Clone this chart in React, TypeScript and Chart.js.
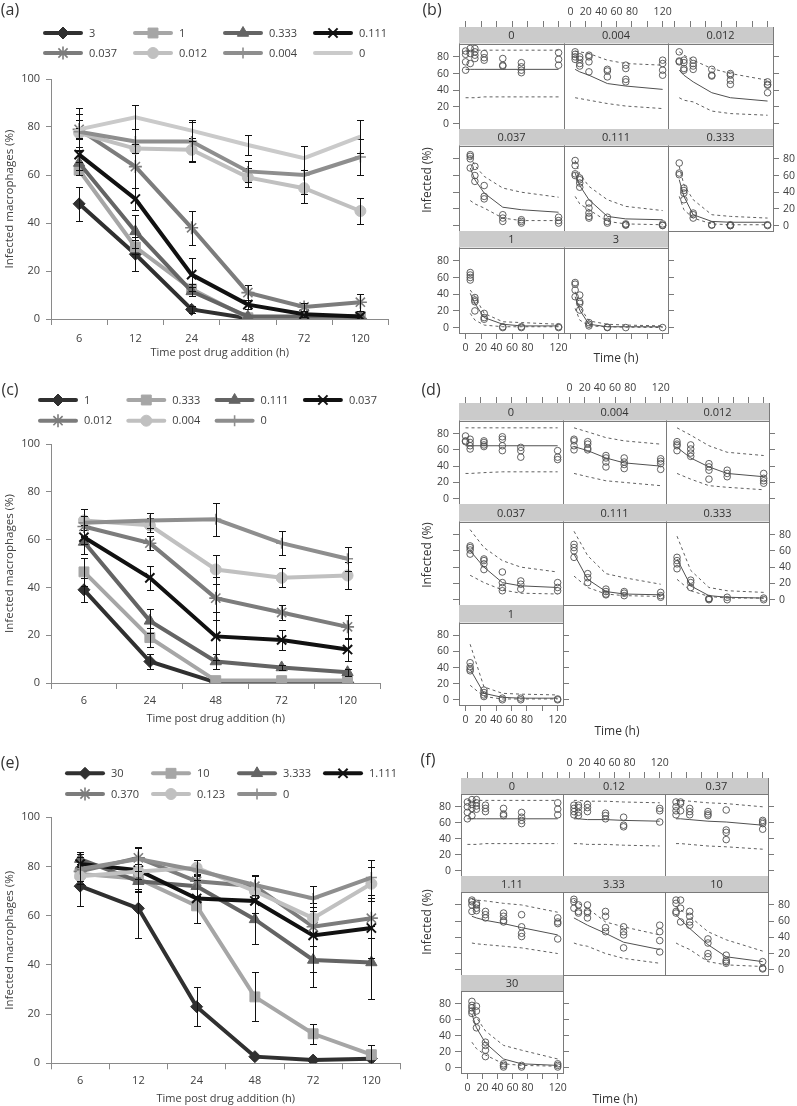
import React, { useEffect, useRef } from 'react';
import { Chart, registerables } from 'chart.js';
import { drawPoint } from 'chart.js/helpers';

Chart.register(...registerables);

const FONT = "'Open Sans', 'DejaVu Sans', sans-serif";
const TXT = '#404040';
const AXIS = '#8a8a8a';
const PBORDER = '#7a7a7a';
const STRIP = '#cbcbcb';

// ---------------- Panel (a) ----------------
const aTimes = ['6', '12', '24', '48', '72', '120'];
const aLabels = ['3', '1', '0.333', '0.111', '0.037', '0.012', '0.004', '0'];
const aMeans = [
  [48, 27, 4, 0.3, 0.3, 0.3],
  [62, 30, 12.5, 0.5, 0.5, 1],
  [65, 36.5, 11.5, 1, 1, 1],
  [68.5, 50, 18.5, 6, 2, 1],
  [79, 63.5, 38, 11, 5, 7],
  [77.5, 71, 70.5, 59, 54.5, 45],
  [78, 74, 74, 61.5, 60, 67.5],
  [79, 84, 78.5, 72.5, 67, 76],
];
const aErrors = [
  [7, 7, 1.5, 0.3, 0.3, 0.5],
  [2, 3, 2, 0.5, 0.5, 0.5],
  [3, 7, 2, 0.5, 0.5, 0.5],
  [3, 4.5, 7, 2, 1, 0.5],
  [4, 9, 7, 3, 1.5, 3.5],
  [2, 2, 5, 4, 6, 5.5],
  [7.5, 5, 8, 4.5, 8, 7.5],
  [9, 5, 4.5, 4, 5, 7],
];

// ---------------- Panel (c) ----------------
const cTimes = ['6', '24', '48', '72', '120'];
const cLabels = ['1', '0.333', '0.111', '0.037', '0.012', '0.004', '0'];
const cMeans = [
  [39, 9, 0.3, 0.3, 0.3],
  [46.5, 19, 1, 1, 1],
  [59, 26, 9, 6.5, 4.5],
  [61, 44, 19.5, 18, 14],
  [65.5, 58.5, 35.5, 29.5, 23.5],
  [68, 66, 47.5, 44, 45],
  [67, 68, 68.5, 58.5, 52],
];
const cErrors = [
  [5, 3, 0.5, 0.3, 0.3],
  [6, 4, 0.5, 0.5, 0.5],
  [5, 5, 3, 1, 1.5],
  [3, 5, 10, 4, 5],
  [4, 3, 9, 3, 5],
  [2, 3, 6, 4, 5.5],
  [6, 3, 7, 5, 5],
];

// ---------------- Panel (e) ----------------
const eTimes = ['6', '12', '24', '48', '72', '120'];
const eLabels = ['30', '10', '3.333', '1.111', '0.370', '0.123', '0'];
const eMeans = [
  [72, 63, 23, 2.7, 1.3, 1.9],
  [77, 75, 64, 27, 12, 3.5],
  [83, 74, 72, 58.5, 42, 41],
  [81, 78.5, 67, 66, 52, 55],
  [78, 83.5, 74, 72, 55.5, 59],
  [76, 78, 79.5, 70, 59, 73],
  [79, 83, 78.5, 72.5, 67, 75.5],
];
const eErrors = [
  [8, 12, 8, 0.5, 0.5, 0.5],
  [3, 4, 7, 10, 4, 4],
  [3, 4, 4, 10, 11, 15],
  [4, 9, 10, 5, 15, 12],
  [3, 4, 7, 4, 8, 8],
  [3, 3, 3, 3, 6, 7],
  [5, 5, 4, 4, 5, 7],
];

// ---------------- Trellis (b) ----------------
const bTimes = [0, 6, 12, 24, 48, 72, 120];
const bStrips = ['0', '0.004', '0.012', '0.037', '0.111', '0.333', '1', '3'];
const bObs = [
  [[87, 83, 74, 64], [90, 84, 72], [90, 86, 82, 78], [84, 79, 76], [78, 70, 69], [73, 68, 64, 61], [85, 77, 70]],
  [[], [86, 83, 80, 77], [80, 77, 72, 69], [82, 80, 74, 62], [65, 63, 56], [70, 66, 53, 50], [76, 72, 64, 58]],
  [[], [86, 75, 74], [76, 73, 66, 64], [76, 72, 69, 65], [65, 58, 57], [60, 58, 52, 47], [50, 47, 46, 37]],
  [[], [85, 83, 80, 69], [71, 60, 53], [48, 35, 32], [13, 9, 5], [7, 5, 3], [10, 6, 3]],
  [[], [78, 72, 62, 60], [57, 55, 51, 46], [27, 21, 15, 11, 9], [10, 5, 3], [2, 1, 0.5], [2, 0.5, 0]],
  [[], [75, 63, 61], [45, 42, 39, 31], [15, 13, 9], [1, 0.5], [1, 0, 0], [1, 0]],
  [[], [66, 63, 60, 57], [36, 33, 31, 20], [17, 12, 10], [1, 0], [1, 0], [1, 0]],
  [[], [54, 52, 45, 37], [39, 31, 29, 21], [6, 4, 2], [0.5, 0], [0], [0]],
];
const bMedian = [
  [65, 65, 65, 65, 65, 65, 65],
  [65, 62, 58, 48, 45, 41],
  [64, 58, 50, 37, 31, 27],
  [69, 55, 39, 22, 19, 16],
  [63, 48, 31, 11, 8, 7],
  [55, 35, 13, 5, 4, 4],
  [41, 29, 12, 4, 2, 2],
  [37, 21, 4, 1, 1, 1],
];
const bUpper = [
  [88, 88, 88, 88, 88, 88, 88],
  [87, 86, 84, 76, 72, 70],
  [86, 82, 76, 66, 60, 52],
  [83, 72, 59, 45, 40, 34],
  [78, 62, 47, 31, 23, 18],
  [71, 49, 31, 13, 11, 9],
  [45, 37, 17, 7, 6, 4],
  [43, 25, 8, 4, 3, 2],
];
const bLower = [
  [31, 31, 31, 32, 32, 32, 32],
  [31, 30, 28, 24, 21, 18],
  [31, 28, 26, 15, 12, 10],
  [30, 26, 21, 9, 6, 6],
  [35, 26, 19, 5, 2, 1],
  [35, 19, 9, 2, 1, 1],
  [17, 9, 3, 1, 1, 1],
  [23, 9, 2, 1, 0.5, 0],
];

// ---------------- Trellis (d) ----------------
const dTimes = [0, 6, 24, 48, 72, 120];
const dStrips = ['0', '0.004', '0.012', '0.037', '0.111', '0.333', '1'];
const dObs = [
  [[77, 71, 70], [73, 69, 65, 61], [71, 69, 66, 64], [76, 73, 65, 59], [63, 59, 51], [59, 51, 48]],
  [[], [73, 71, 65, 60], [70, 67, 62, 60], [53, 50, 45, 39], [50, 45, 42, 37], [49, 46, 43, 36]],
  [[], [70, 67, 65, 59], [66, 61, 56, 52], [43, 39, 35, 24], [35, 31, 27], [31, 25, 22, 19]],
  [[], [66, 64, 61, 56], [50, 48, 44, 37], [34, 21, 15, 11], [23, 19, 13], [21, 15, 11]],
  [[], [68, 64, 60, 52], [32, 27, 21], [13, 10, 7, 6], [10, 8, 5], [9, 5, 3]],
  [[], [52, 48, 44, 38], [24, 21, 15], [1.5, 1, 0], [3, 0], [2, 0]],
  [[], [46, 41, 38, 36], [12, 9, 6, 4], [2, 0], [2, 0], [1, 0]],
];
const dMedian = [
  [65, 65, 65, 65, 65, 65],
  [64, 59, 50, 44, 40],
  [63, 50, 39, 31, 27],
  [60, 40, 21, 17, 15],
  [56, 25, 10, 7, 6],
  [50, 17, 5, 3, 2],
  [38, 8, 3, 2, 2],
];
const dUpper = [
  [87, 87, 87, 87, 87, 87],
  [87, 82, 75, 71, 67],
  [87, 78, 65, 57, 53],
  [86, 64, 48, 40, 34],
  [84, 54, 32, 27, 19],
  [78, 36, 15, 11, 9],
  [69, 16, 8, 7, 6],
];
const dLower = [
  [31, 31, 32, 33, 33, 33],
  [31, 27, 22, 20, 16],
  [31, 24, 16, 14, 11],
  [30, 21, 12, 8, 7],
  [29, 15, 7, 5, 4],
  [25, 11, 4, 2, 2],
  [18, 4, 1, 1, 1],
];

// ---------------- Trellis (f) ----------------
const fTimes = [0, 6, 12, 24, 48, 72, 120];
const fStrips = ['0', '0.12', '0.37', '1.11', '3.33', '10', '30'];
const fObs = [
  [[86, 80, 73, 65], [89, 83, 78, 69], [89, 85, 81, 77], [82, 78, 74], [78, 71, 69], [73, 67, 63, 59], [85, 77, 70]],
  [[], [82, 78, 74, 70], [82, 79, 73, 69], [83, 79, 74], [72, 69, 65], [67, 57, 55], [78, 75, 61]],
  [[], [86, 80, 75, 70], [86, 84, 75], [78, 74, 70], [74, 71, 69], [76, 51, 48, 39], [63, 61, 59, 52]],
  [[], [86, 84, 80, 72], [82, 80, 76, 73], [72, 68, 64], [70, 66, 61, 59], [68, 53, 45, 41], [64, 59, 57, 38]],
  [[], [87, 84, 76], [80, 72, 70], [80, 72, 70, 64], [72, 66, 52, 47], [53, 47, 43, 27], [55, 47, 36, 22]],
  [[], [86, 82, 72, 70], [86, 76, 59], [72, 66, 59, 55], [38, 33, 20, 16], [18, 12, 10, 8], [10, 2, 1]],
  [[], [83, 78, 75, 71, 68], [77, 71, 59, 50], [32, 28, 22, 14], [5, 3, 1], [3, 1], [5, 3, 1]],
];
const fMedian = [
  [65, 65, 65, 65, 65, 65, 65],
  [65, 65, 64, 64, 63, 62],
  [65, 65, 64, 62, 61, 57],
  [66, 64, 61, 57, 52, 43],
  [64, 61, 55, 45, 34, 25],
  [68, 62, 51, 31, 16, 10],
  [67, 50, 31, 11, 5, 3],
];
const fUpper = [
  [88, 88, 88, 88, 88, 88, 88],
  [88, 88, 87, 87, 86, 85],
  [88, 88, 87, 85, 84, 80],
  [87, 86, 85, 82, 80, 71],
  [86, 82, 76, 59, 53, 43],
  [78, 74, 66, 47, 37, 23],
  [74, 63, 46, 28, 22, 11],
];
const fLower = [
  [33, 33, 33, 34, 34, 34, 34],
  [34, 34, 33, 33, 32, 31],
  [34, 34, 33, 31, 30, 27],
  [33, 32, 31, 29, 27, 20],
  [33, 31, 29, 20, 14, 8],
  [33, 30, 25, 10, 6, 4],
  [32, 24, 16, 5, 3, 2],
];

const trellisXTicks = [0, 20, 40, 60, 80, 100, 120];
const trellisYTicks = [0, 20, 40, 60, 80];

// ---------------- Styles (by series index) ----------------
const SERIES_COLORS = ['#303030', '#a6a6a6', '#646464', '#111111', '#7c7c7c', '#c0c0c0', '#8e8e8e', '#cacaca'];
const SERIES_MARKERS: any[] = ['rectRot', 'rect', 'triangle', 'crossRot', 'star', 'circle', 'cross', false];
const SERIES_SIZES = [6, 7, 6.5, 6.5, 6.5, 5.5, 5.5, 0];
const SERIES_STROKE = [1, 1, 1, 2, 1.6, 1, 1.6, 1];

function errorPlugin(errors: number[][]) {
  return {
    id: 'errorBars',
    afterDatasetDraw(chart: any, args: any) {
      const i = args.index;
      const errs = errors[i];
      if (!errs) return;
      const ds = chart.data.datasets[i];
      const ys = chart.scales.y;
      const ctx = chart.ctx;
      const { bottom } = chart.chartArea;
      ctx.save();
      ctx.strokeStyle = '#111';
      ctx.lineWidth = 1;
      args.meta.data.forEach((el: any, j: number) => {
        const e = errs[j];
        if (!e || e < 0.8) return;
        const v = ds.data[j];
        const x = Math.round(el.x) + 0.5;
        const yHi = Math.round(ys.getPixelForValue(v + e)) + 0.5;
        const yLoRaw = ys.getPixelForValue(v - e);
        const yLo = Math.round(Math.min(bottom, yLoRaw)) + 0.5;
        ctx.beginPath();
        ctx.moveTo(x, yHi);
        ctx.lineTo(x, yLo);
        ctx.moveTo(x - 3.5, yHi);
        ctx.lineTo(x + 3.5, yHi);
        if (yLoRaw <= bottom) {
          ctx.moveTo(x - 3.5, yLo);
          ctx.lineTo(x + 3.5, yLo);
        }
        ctx.stroke();
      });
      ctx.restore();
    },
  };
}

function legendPlugin(lg: { x0: number; y0: number; dx: number; dy: number }) {
  return {
    id: 'customLegend',
    afterDraw(chart: any) {
      const ctx = chart.ctx;
      ctx.save();
      chart.data.datasets.forEach((ds: any, i: number) => {
        const x = lg.x0 + (i % 4) * lg.dx;
        const y = lg.y0 + Math.floor(i / 4) * lg.dy;
        ctx.strokeStyle = ds.borderColor;
        ctx.lineWidth = 4;
        ctx.lineCap = 'round';
        ctx.beginPath();
        ctx.moveTo(x + 2, y);
        ctx.lineTo(x + 38, y);
        ctx.stroke();
        ctx.lineCap = 'butt';
        const m = SERIES_MARKERS[i];
        if (m) {
          ctx.fillStyle = ds.borderColor;
          ctx.strokeStyle = ds.borderColor;
          ctx.lineWidth = SERIES_STROKE[i];
          drawPoint(ctx, { pointStyle: m, rotation: 0, radius: SERIES_SIZES[i], borderWidth: SERIES_STROKE[i] } as any, x + 20, y);
        }
        ctx.fillStyle = TXT;
        ctx.font = `11px ${FONT}`;
        ctx.textAlign = 'left';
        ctx.textBaseline = 'middle';
        ctx.fillText(ds.label, x + 46, y + 0.5);
      });
      ctx.restore();
    },
  };
}

type LeftSpec = {
  top: number; height: number; chartTop: number; chartBottom: number; chartRight: number;
  times: string[]; labels: string[]; means: number[][]; errors: number[][];
  legend: { x0: number; y0: number; dx: number; dy: number };
  tickPad: number; titlePad: number;
};

const leftSpecs: LeftSpec[] = [
  { top: 0, height: 360, chartTop: 79, chartBottom: 319, chartRight: 391, times: aTimes, labels: aLabels, means: aMeans, errors: aErrors,
    legend: { x0: 43, y0: 33, dx: 90, dy: 20 }, tickPad: 7.5, titlePad: 0.7 },
  { top: 370, height: 360, chartTop: 74, chartBottom: 313, chartRight: 383, times: cTimes, labels: cLabels, means: cMeans, errors: cErrors,
    legend: { x0: 38, y0: 30, dx: 88.3, dy: 20.7 }, tickPad: 5, titlePad: 4.4 },
  { top: 735, height: 371, chartTop: 82.3, chartBottom: 328.3, chartRight: 403, times: eTimes, labels: eLabels, means: eMeans, errors: eErrors,
    legend: { x0: 65, y0: 38.3, dx: 86, dy: 20.7 }, tickPad: 4.8, titlePad: 0.1 },
];

function LeftChart({ spec }: { spec: LeftSpec }) {
  const ref = useRef<HTMLCanvasElement>(null);
  const W = spec.chartRight + 6;
  useEffect(() => {
    const n = spec.means.length;
    const chart = new Chart(ref.current as HTMLCanvasElement, {
      type: 'line',
      data: {
        labels: spec.times,
        datasets: spec.means.map((m, i) => ({
          label: spec.labels[i],
          data: m,
          borderColor: SERIES_COLORS[i],
          backgroundColor: SERIES_COLORS[i],
          borderWidth: 4,
          pointStyle: SERIES_MARKERS[i] || 'circle',
          pointRadius: SERIES_MARKERS[i] ? SERIES_SIZES[i] : 0,
          pointBorderWidth: SERIES_STROKE[i],
          pointBackgroundColor: SERIES_COLORS[i],
          pointBorderColor: SERIES_COLORS[i],
          tension: 0,
          order: n - i,
        })),
      } as any,
      options: {
        animation: false,
        responsive: false,
        devicePixelRatio: 1,
        layout: { padding: { top: spec.chartTop, right: W - spec.chartRight, left: 0, bottom: 0 } },
        plugins: { legend: { display: false }, tooltip: { enabled: false } },
        scales: {
          x: {
            type: 'category',
            offset: true,
            grid: { display: true, drawOnChartArea: false, drawTicks: true, tickLength: 6, offset: true, color: AXIS },
            border: { display: true, color: AXIS, width: 1 },
            ticks: { color: TXT, font: { family: FONT, size: 11 }, padding: spec.tickPad, maxRotation: 0, autoSkip: false },
            title: { display: true, text: 'Time post drug addition (h)', color: TXT, font: { family: FONT, size: 11 }, padding: { top: 0, bottom: spec.titlePad } },
            afterFit: (s: any) => { s.height = spec.height - spec.chartBottom; },
          },
          y: {
            min: 0,
            max: 100,
            grid: { display: true, drawOnChartArea: false, drawTicks: true, tickLength: 5, color: AXIS },
            border: { display: true, color: AXIS, width: 1 },
            ticks: { stepSize: 20, color: TXT, font: { family: FONT, size: 11 }, padding: 6 },
            title: { display: true, text: 'Infected macrophages (%)', color: TXT, font: { family: FONT, size: 11.5 }, padding: { top: 3.2, bottom: 0 } },
            afterFit: (s: any) => { s.width = 51; },
          },
        },
      } as any,
      plugins: [errorPlugin(spec.errors), legendPlugin(spec.legend)],
    });
    return () => chart.destroy();
  }, []);
  return (
    <canvas ref={ref} width={W} height={spec.height}
      style={{ position: 'absolute', left: 0, top: spec.top, width: W, height: spec.height }} />
  );
}

type TrellisSpec = {
  x0: number; y0: number; colW: number; rowH: number; stripH: number;
  times: number[]; strips: string[]; obs: number[][][]; med: number[][]; up: number[][]; lo: number[][];
};

const trellisSpecs: TrellisSpec[] = [
  { x0: 459, y0: 27, colW: 104.7, rowH: 102, stripH: 16.5, times: bTimes, strips: bStrips, obs: bObs, med: bMedian, up: bUpper, lo: bLower },
  { x0: 459.3, y0: 403.3, colW: 103.3, rowH: 100.6, stripH: 17.5, times: dTimes, strips: dStrips, obs: dObs, med: dMedian, up: dUpper, lo: dLower },
  { x0: 460.7, y0: 777.7, colW: 102.3, rowH: 98.5, stripH: 16, times: fTimes, strips: fStrips, obs: fObs, med: fMedian, up: fUpper, lo: fLower },
];

function stripPlugin(label: string, stripH: number) {
  return {
    id: 'strip',
    beforeDatasetsDraw(chart: any) {
      const { ctx } = chart;
      const { left, right, top } = chart.chartArea;
      ctx.save();
      ctx.fillStyle = STRIP;
      ctx.fillRect(left, top, right - left, stripH);
      ctx.strokeStyle = PBORDER;
      ctx.lineWidth = 1;
      const yl = Math.round(top + stripH) + 0.5;
      ctx.beginPath();
      ctx.moveTo(left, yl);
      ctx.lineTo(right, yl);
      ctx.stroke();
      ctx.fillStyle = '#333';
      ctx.font = `11px ${FONT}`;
      ctx.textAlign = 'center';
      ctx.textBaseline = 'middle';
      ctx.fillText(label, (left + right) / 2, top + stripH / 2 + 1);
      ctx.restore();
    },
  };
}

const XMIN = -8.5, XMAX = 127, YMIN = -6.5, YPLOTTOP = 96;

function TrellisCell({ spec, idx }: { spec: TrellisSpec; idx: number }) {
  const ref = useRef<HTMLCanvasElement>(null);
  const c = idx % 3, r = Math.floor(idx / 3);
  const n = spec.strips.length;
  const left = Math.round(spec.x0 + c * spec.colW), right = Math.round(spec.x0 + (c + 1) * spec.colW);
  const top = Math.round(spec.y0 + r * spec.rowH), bottom = Math.round(spec.y0 + (r + 1) * spec.rowH);
  const M = 32;
  const W = right - left + 2 * M, H = bottom - top + 2 * M;
  useEffect(() => {
    const plotH = bottom - top - spec.stripH;
    const pxPerUnit = plotH / (YPLOTTOP - YMIN);
    const yMax = YPLOTTOP + spec.stripH / pxPerUnit;
    const lastInRow = c === 2 || idx === n - 1;
    const topTicks = r === 0, topLabels = r === 0 && c === 1;
    const botTicks = r === 2, botLabels = r === 2 && c === 0;
    const leftTicks = c === 0, leftLabels = c === 0 && r !== 1;
    const rightTicks = lastInRow, rightLabels = lastInRow && r === 1;
    const times = spec.times;
    const obsPts: any[] = [];
    spec.obs[idx].forEach((vals, k) => vals.forEach((v) => obsPts.push({ x: times[k], y: v })));
    const mk = (arr: number[]) => {
      const t = times.slice(times.length - arr.length);
      return arr.map((v, k) => ({ x: t[k], y: v }));
    };
    const tickFont = { family: FONT, size: 10.5 };
    const xAxis = (pos: string, showTicks: boolean, showLabels: boolean) => ({
      type: 'linear', position: pos, display: true, min: XMIN, max: XMAX,
      afterBuildTicks: (s: any) => { s.ticks = trellisXTicks.map((v) => ({ value: v })); },
      grid: { display: showTicks, drawOnChartArea: false, drawTicks: true, tickLength: 6, color: PBORDER },
      border: { display: true, color: PBORDER, width: 1 },
      ticks: { display: showLabels, color: TXT, font: tickFont, padding: 3, maxRotation: 0, autoSkip: false,
        callback: (v: any) => (v === 100 ? '' : String(v)) },
      afterFit: (s: any) => { s.height = M; },
    });
    const yAxis = (pos: string, showTicks: boolean, showLabels: boolean) => ({
      type: 'linear', position: pos, display: true, min: YMIN, max: yMax,
      afterBuildTicks: (s: any) => { s.ticks = trellisYTicks.map((v) => ({ value: v })); },
      grid: { display: showTicks, drawOnChartArea: false, drawTicks: true, tickLength: 6, color: PBORDER },
      border: { display: true, color: PBORDER, width: 1 },
      ticks: { display: showLabels, color: TXT, font: tickFont, padding: 4, autoSkip: false,
        callback: (v: any) => String(v) },
      afterFit: (s: any) => { s.width = M; },
    });
    const chart = new Chart(ref.current as HTMLCanvasElement, {
      type: 'line',
      data: {
        datasets: [
          { data: obsPts, showLine: false, pointStyle: 'circle', pointRadius: 3.3, pointBorderWidth: 0.9,
            pointBorderColor: '#505050', pointBackgroundColor: 'rgba(0,0,0,0)', borderColor: '#505050' },
          { data: mk(spec.med[idx]), borderColor: '#505050', borderWidth: 1, pointRadius: 0, tension: 0 },
          { data: mk(spec.up[idx]), borderColor: '#606060', borderWidth: 1, borderDash: [3, 3], pointRadius: 0, tension: 0 },
          { data: mk(spec.lo[idx]), borderColor: '#606060', borderWidth: 1, borderDash: [3, 3], pointRadius: 0, tension: 0 },
        ],
      } as any,
      options: {
        animation: false,
        responsive: false,
        devicePixelRatio: 1,
        layout: { padding: 0 },
        plugins: { legend: { display: false }, tooltip: { enabled: false } },
        scales: {
          x: xAxis('bottom', botTicks, botLabels),
          xTop: xAxis('top', topTicks, topLabels),
          y: yAxis('left', leftTicks, leftLabels),
          yRight: yAxis('right', rightTicks, rightLabels),
        },
      } as any,
      plugins: [stripPlugin(spec.strips[idx], spec.stripH)],
    });
    return () => chart.destroy();
  }, []);
  return (
    <canvas ref={ref} width={W} height={H}
      style={{ position: 'absolute', left: left - M, top: top - M, width: W, height: H }} />
  );
}

const labelStyle: any = { position: 'absolute', fontFamily: FONT, color: '#333', whiteSpace: 'nowrap', lineHeight: 1 };

function Label({ text, x, y, size, rotate }: { text: string; x: number; y: number; size: number; rotate?: boolean }) {
  return (
    <div style={{ ...labelStyle, left: x, top: y, fontSize: size,
      transform: `translate(-50%, -50%)${rotate ? ' rotate(-90deg)' : ''}` }}>{text}</div>
  );
}

export default function App() {
  return (
    <div style={{ position: 'absolute', left: 0, top: 0, width: 797, height: 1106, background: '#fff', overflow: 'hidden' }}>
      {leftSpecs.map((s, i) => <LeftChart key={'l' + i} spec={s} />)}
      {trellisSpecs.map((s, ti) => s.strips.map((_, i) => <TrellisCell key={'t' + ti + '_' + i} spec={s} idx={i} />))}
      <Label text="(a)" x={10} y={9} size={16} />
      <Label text="(c)" x={10} y={389} size={16} />
      <Label text="(e)" x={10} y={762} size={16} />
      <Label text="(b)" x={432} y={8.5} size={16} />
      <Label text="(d)" x={431} y={389} size={16} />
      <Label text="(f)" x={428} y={759} size={16} />
      <Label text="Infected (%)" x={426.7} y={180} size={12} rotate />
      <Label text="Infected (%)" x={426.7} y={555} size={12} rotate />
      <Label text="Infected (%)" x={426.7} y={921.7} size={12} rotate />
      <Label text="Time (h)" x={616} y={358} size={12} />
      <Label text="Time (h)" x={617} y={731} size={12} />
      <Label text="Time (h)" x={615} y={1099} size={12} />
    </div>
  );
}
